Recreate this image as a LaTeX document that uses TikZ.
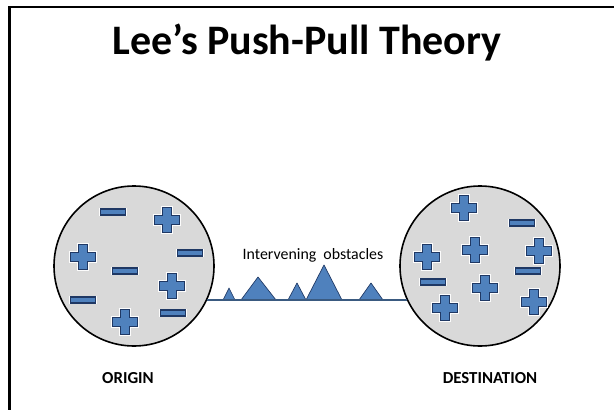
\documentclass[tikz,border=0pt]{standalone}
\usepackage{fontspec}
\setmainfont{Carlito}
\usepackage{xcolor}
\definecolor{signblue}{HTML}{4F81BD}
\definecolor{signedge}{HTML}{1F3864}
\definecolor{trackline}{HTML}{3A5A80}
\definecolor{zonegray}{HTML}{D9D9D9}

\tikzset{
  zone/.style={circle, draw=black, line width=1.2pt, fill=zonegray, minimum size=120pt, inner sep=0pt},
  obstacle/.style={fill=signblue, draw=signedge, line width=0.5pt, line join=round},
  caption/.style={font=\bfseries\fontsize{12.6}{15}\selectfont},
  signshape/.style={fill=signblue, draw=signedge, line width=0.8pt, line join=miter,
    preaction={draw=white!92!zonegray, line width=2.2pt}},
  possign/.pic={
    \draw[signshape]
      (-4.5,-12.5) -- (4.5,-12.5) -- (4.5,-4.5) -- (12.5,-4.5) -- (12.5,4.5) -- (4.5,4.5) -- (4.5,12.5)
      -- (-4.5,12.5) -- (-4.5,4.5) -- (-12.5,4.5) -- (-12.5,-4.5) -- (-4.5,-4.5) -- cycle;
  },
  negsign/.pic={
    \draw[signshape] (-12.5,-3) rectangle (12.5,3);
  }
}

\begin{document}
\begin{tikzpicture}[x=0.75pt,y=-0.75pt]
  \useasboundingbox (0,0) rectangle (614,410);
  % frame
  \draw[line width=2.2pt] (9.5,430) |- (630,7);

  \node[anchor=base, font=\bfseries\fontsize{31.5}{38}\selectfont] (title) at (307,55) {Lee’s Push-Pull Theory};

  \node[zone] (origin) at (134,266) {};
  \node[zone] (dest) at (480,266) {};

  % signs in the origin
  \foreach \x/\y in {167/220, 83/257, 172/286, 125/322}
    \pic at (\x,\y) {possign};
  \foreach \x/\y in {113/212, 190/253, 125/271, 83/300, 173/313}
    \pic at (\x,\y) {negsign};

  % signs in the destination
  \foreach \x/\y in {464/208, 427/257, 475/250, 539/251, 485/288, 445/308, 534/302}
    \pic at (\x,\y) {possign};
  \foreach \x/\y in {522/223, 528/271, 433/282}
    \pic at (\x,\y) {negsign};

  % obstacles
  \foreach \l/\t/\r/\h in {223/229/235/288, 241/258/276/277, 288/297/306/283,
                           306/324/342/265, 359/371/383/283}
    \draw[obstacle] (\l,300) -- (\t,\h) -- (\r,300) -- cycle;
  \draw[trackline, line width=1.2pt] (origin.-25) -- (dest.205);

  \node[font=\fontsize{11.9}{14}\selectfont] (obst) at (313,255) {Intervening\ \ obstacles};

  \node[caption] (lbl-origin) at (128,378) {ORIGIN};
  \node[caption] (lbl-dest) at (490,378) {DESTINATION};
\end{tikzpicture}
\end{document}
